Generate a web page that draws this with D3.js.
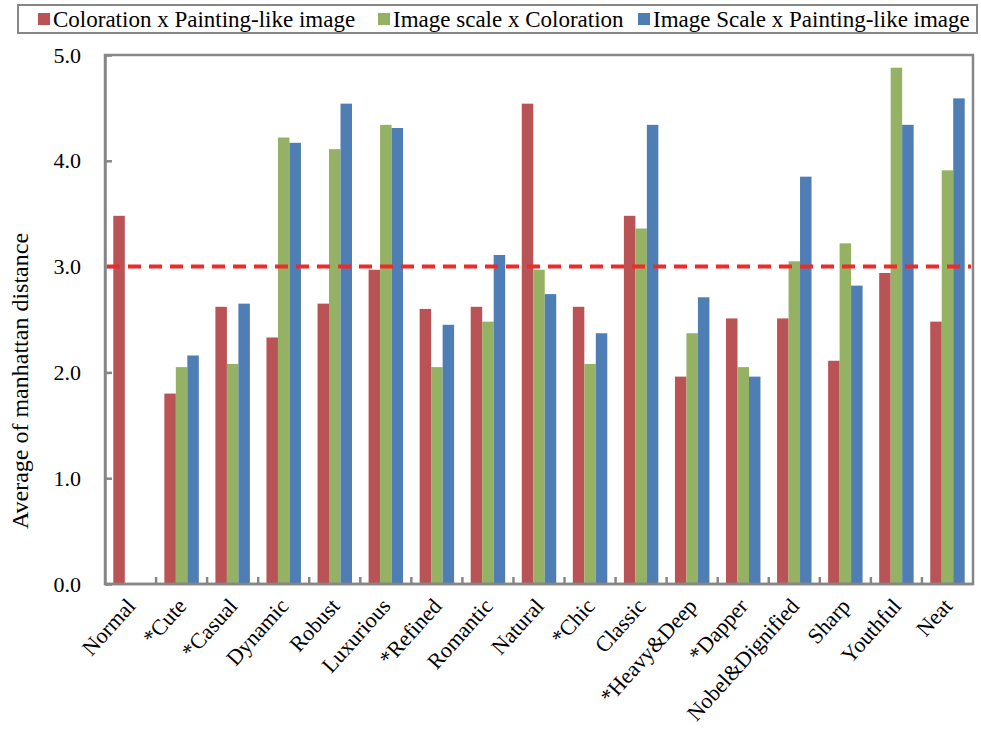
<!DOCTYPE html>
<html>
<head>
<meta charset="utf-8">
<script src="https://cdn.jsdelivr.net/npm/d3@7"></script>
<style>
  html, body { margin: 0; padding: 0; background: #fff; }
  svg { display: block; }
  text { font-family: "Liberation Serif", "Times New Roman", serif; fill: #000; }
</style>
</head>
<body>
<svg id="chart" width="981" height="729"></svg>
<script>
// Impression categories (asterisk marks a starred item)
const categories = ["Normal", "*Cute", "*Casual", "Dynamic", "Robust", "Luxurious", "*Refined",
  "Romantic", "Natural", "*Chic", "Classic", "*Heavy&Deep", "*Dapper", "Nobel&Dignified",
  "Sharp", "Youthful", "Neat"];

const seriesNames = ["Coloration x Painting-like image", "Image scale x Coloration", "Image Scale x Painting-like image"];

// Average manhattan distance per category, one array per pairing
const colorationPainting = [3.48, 1.80, 2.62, 2.33, 2.65, 2.97, 2.60, 2.62, 4.54, 2.62, 3.48, 1.96, 2.51, 2.51, 2.11, 2.94, 2.48];
const scaleColoration    = [null, 2.05, 2.08, 4.22, 4.11, 4.34, 2.05, 2.48, 2.97, 2.08, 3.36, 2.37, 2.05, 3.05, 3.22, 4.88, 3.91];
const scalePainting      = [null, 2.16, 2.65, 4.17, 4.54, 4.31, 2.45, 3.11, 2.74, 2.37, 4.34, 2.71, 1.96, 3.85, 2.82, 4.34, 4.59];

const yTicks = [0, 1, 2, 3, 4, 5];
const threshold = 3.0;

const colors = ["#B95355", "#95B163", "#4E7EB4"];
const seriesValues = [colorationPainting, scaleColoration, scalePainting];

const svg = d3.select("#chart");
const margin = { left: 105, right: 8, top: 55, bottom: 145 };
const width = 981, height = 729;
const x0 = margin.left, x1 = width - margin.right;
const y0 = height - margin.bottom, y1 = margin.top;

const x = d3.scaleBand().domain(categories).range([x0, x1]).paddingInner(0).paddingOuter(0);
const groupW = x.bandwidth() * 0.675;
const xs = d3.scaleBand().domain(d3.range(3)).range([0, groupW]);
const y = d3.scaleLinear().domain([0, 5]).range([y0, y1]);

const axisColor = "#868686";

// Bars
const groups = svg.append("g").selectAll("g")
  .data(categories)
  .join("g")
  .attr("transform", d => `translate(${x(d) + (x.bandwidth() - groupW) / 2},0)`);

groups.selectAll("rect")
  .data((d, i) => seriesValues.map((s, k) => ({ k, v: s[i] })).filter(o => o.v != null))
  .join("rect")
  .attr("x", d => xs(d.k))
  .attr("width", xs.bandwidth())
  .attr("y", d => y(d.v))
  .attr("height", d => y(0) - y(d.v))
  .attr("fill", d => colors[d.k]);

// Plot frame
svg.append("rect")
  .attr("x", x0).attr("y", y1)
  .attr("width", x1 - x0).attr("height", y0 - y1)
  .attr("fill", "none").attr("stroke", axisColor).attr("stroke-width", 2.5);

// Y axis with inward ticks
const yAxis = d3.axisLeft(y).tickValues(yTicks).tickFormat(d3.format(".1f")).tickSizeInner(-7).tickSizeOuter(0).tickPadding(24);
const yg = svg.append("g").attr("transform", `translate(${x0},0)`).call(yAxis);
yg.select(".domain").attr("stroke", axisColor).attr("stroke-width", 2.5);
yg.selectAll(".tick line").attr("stroke", axisColor).attr("stroke-width", 2.5);
yg.selectAll(".tick text").style("font-size", "22px").style("font-family", "Liberation Serif").attr("fill", "#000");

// X axis: ticks at category boundaries, labels rotated
const xg = svg.append("g").attr("transform", `translate(0,${y0})`);
xg.append("line").attr("x1", x0).attr("x2", x1).attr("y1", 0).attr("y2", 0)
  .attr("stroke", axisColor).attr("stroke-width", 2.5);
xg.selectAll("line.tick")
  .data(categories.slice(1))
  .join("line")
  .attr("class", "tick")
  .attr("x1", d => x(d)).attr("x2", d => x(d))
  .attr("y1", 0).attr("y2", -7)
  .attr("stroke", axisColor).attr("stroke-width", 2.5);
xg.selectAll("text")
  .data(categories)
  .join("text")
  .attr("text-anchor", "end")
  .attr("transform", d => `translate(${x(d) + x.bandwidth() / 2 + 6},${23}) rotate(-48)`)
  .style("font-size", "22px")
  .text(d => d);

// Reference line at 3.0
svg.append("line")
  .attr("x1", x0 + 2).attr("x2", x1 - 2)
  .attr("y1", y(threshold)).attr("y2", y(threshold))
  .attr("stroke", "#EE2A2A").attr("stroke-width", 4)
  .attr("stroke-dasharray", "13,8");

// Y axis title
svg.append("text")
  .attr("transform", `translate(28,381) rotate(-90)`)
  .attr("text-anchor", "middle")
  .style("font-size", "24px")
  .text("Average of manhattan distance");

// Legend
const legend = svg.append("g");
legend.append("rect")
  .attr("x", 18).attr("y", 5).attr("width", 959).attr("height", 28)
  .attr("fill", "#fff").attr("stroke", axisColor).attr("stroke-width", 2);
const legendX = [38, 378, 638];
seriesNames.forEach((name, k) => {
  const g = legend.append("g").attr("transform", `translate(${legendX[k]},0)`);
  g.append("rect").attr("x", 0).attr("y", 13).attr("width", 12).attr("height", 12).attr("fill", colors[k]);
  g.append("text").attr("x", 15).attr("y", 27).style("font-size", "23px").text(name);
});
</script>
</body>
</html>
